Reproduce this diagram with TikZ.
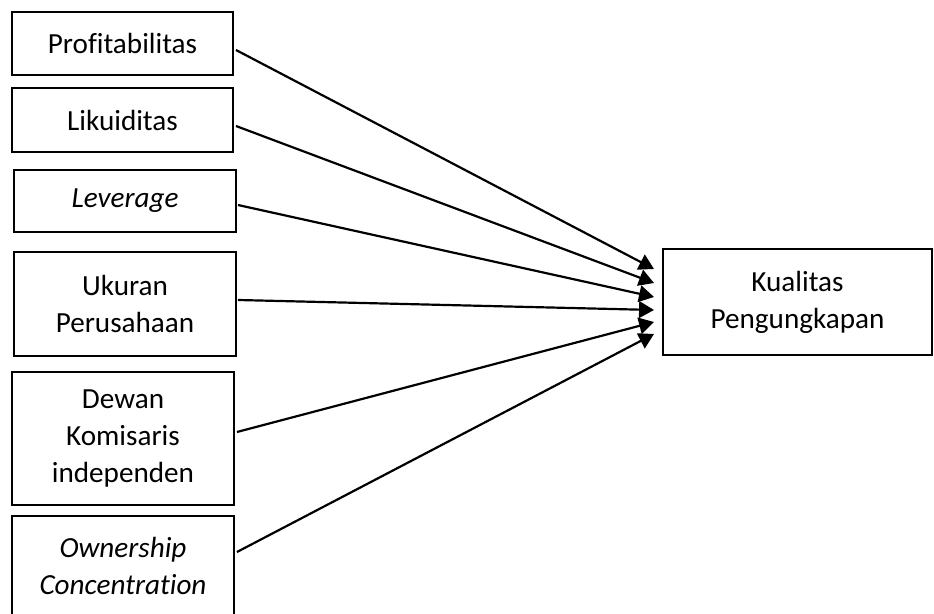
\documentclass[tikz,border=0pt]{standalone}
\usepackage{fontspec}
\setmainfont{Carlito}[Ligatures=NoCommon]
\usetikzlibrary{arrows.meta}
\tikzset{
	varbox/.style={draw, line width=1pt, inner sep=0pt, outer sep=0pt, align=center, font=\fontsize{16.6}{21}\selectfont},
	link/.style={line width=1.25pt, -{Triangle[length=8.5pt,width=9.5pt]}}
}

\begin{document}
\begin{tikzpicture}[x=0.02cm, y=-0.02cm]
			%%%%% START %%%%%
			\useasboundingbox (0, 0) rectangle (934, 614);
			\clip (0, 0) rectangle (934, 614);
			
			\node[varbox, minimum width=4.42cm, minimum height=1.26cm] (prof) at (122.5, 43.5) {Profitabilitas};
			\node[varbox, minimum width=4.42cm, minimum height=1.28cm] (likuid) at (122.5, 120) {Likuiditas};
			\node[varbox, minimum width=4.44cm, minimum height=1.24cm] (lev) at (125, 201) {\itshape Leverage};
			\node[varbox, minimum width=4.44cm, minimum height=2.08cm] (ukuran) at (125, 304) {Ukuran\\Perusahaan};
			\node[varbox, minimum width=4.44cm, minimum height=2.66cm] (dewan) at (123, 438.5) {Dewan\\Komisaris\\independen};
			\node[varbox, minimum width=4.44cm, minimum height=2.0cm] (owner) at (123, 566) {\itshape Ownership\\\itshape Concentration};
			
			\node[varbox, minimum width=5.38cm, minimum height=2.12cm] (kualitas) at (797.5, 302) {Kualitas\\Pengungkapan};
			
			% arrow tips in front of the target box
			\coordinate (t1) at (654, 269);
			\coordinate (t2) at (654, 283);
			\coordinate (t3) at (654, 297);
			\coordinate (t4) at (654, 310);
			\coordinate (t5) at (654, 322);
			\coordinate (t6) at (654, 334);
			
			\draw[link] ([shift={(3, 6.5)}]prof.east) -- (t1);
			\draw[link] ([shift={(3, 6)}]likuid.east) -- (t2);
			\draw[link] ([shift={(2, 4)}]lev.east) -- (t3);
			\draw[link] ([shift={(2, -4)}]ukuran.east) -- (t4);
			\draw[link] ([shift={(3, -6.5)}]dewan.east) -- (t5);
			\draw[link] ([shift={(3, -14)}]owner.east) -- (t6);
			%%%%% END %%%%%
\end{tikzpicture}
\end{document}
